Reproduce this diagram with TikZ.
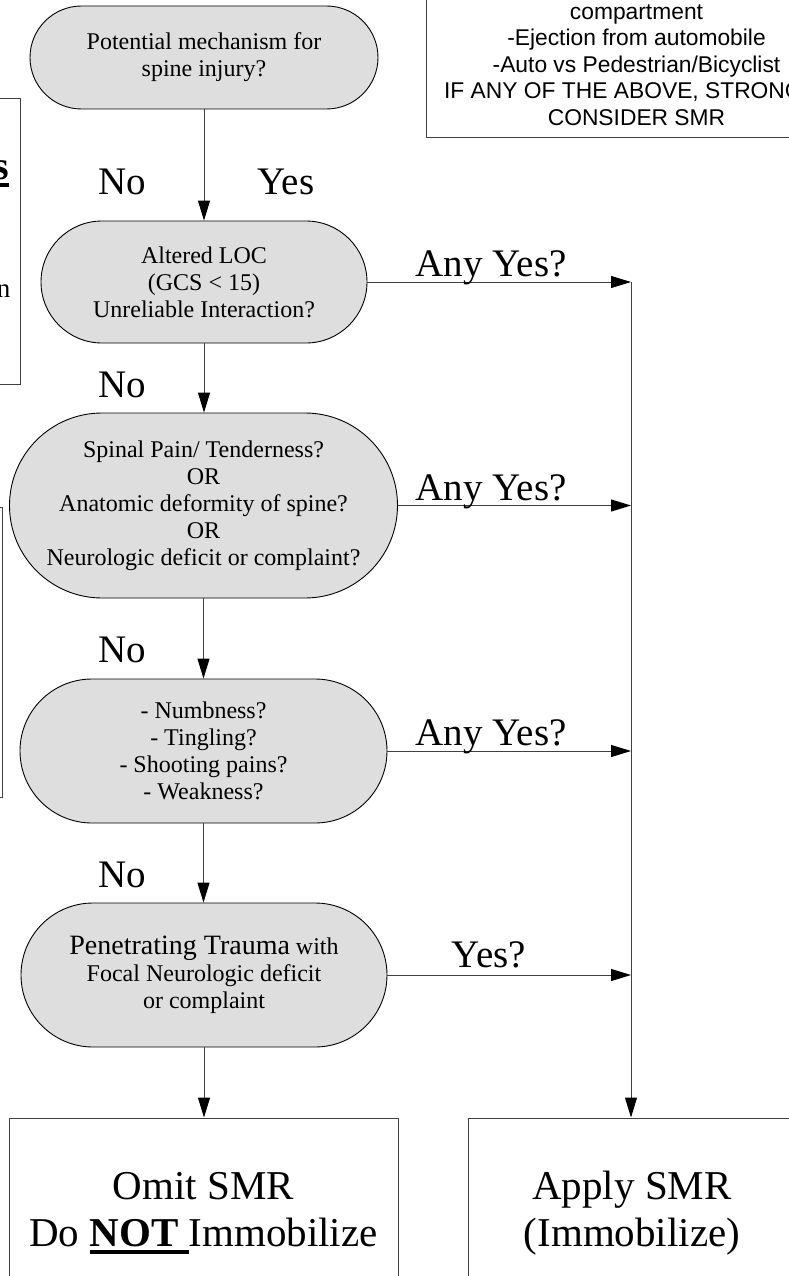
\documentclass[tikz,border=0pt]{standalone}
\usepackage{fontspec}
\setmainfont{Liberation Serif}
\newfontfamily\arialfont{Liberation Sans}
\usetikzlibrary{shapes.misc,arrows.meta}
\definecolor{nodefill}{RGB}{222,222,222}
\definecolor{linegray}{RGB}{64,64,64}
\newcommand\thickul[1]{\setbox0\hbox{#1}\rlap{\rule[-7pt]{\wd0}{3.5pt}}\box0}
\begin{document}
\begin{tikzpicture}[x=1pt,y=-1pt,
  decision/.style={rounded rectangle, rounded rectangle arc length=180, draw=black, line width=0.9pt,
    fill=nodefill, inner sep=0pt, align=center, font=\fontsize{24}{27}\selectfont},
  outbox/.style={rectangle, draw=linegray, line width=1pt, inner sep=0pt, align=center,
    font=\fontsize{41}{47}\selectfont},
  sidebox/.style={rectangle, draw=linegray, line width=1pt, inner sep=0pt},
  conn/.style={draw=linegray, line width=1pt},
  arr/.style={conn, -{Triangle[length=20pt,width=12pt,color=black]}},
  biglabel/.style={anchor=base, inner sep=0pt, font=\fontsize{39}{39}\selectfont},
]
\useasboundingbox (0,0) rectangle (788,1276);

% partial boxes at the edges
\node[sidebox, minimum width=420pt, minimum height=146pt, align=center,
      font=\arialfont\fontsize{22.8}{26.4}\selectfont] (mech) at (636.5,65)
  {compartment\\-Ejection from automobile\\-Auto vs Pedestrian/Bicyclist\\IF ANY OF THE ABOVE, STRONGLY\\CONSIDER SMR};
\node[sidebox, minimum width=300pt, minimum height=285pt] (side1) at (-130,241.5) {};
\node[anchor=base east, inner sep=0pt, font=\fontsize{40}{40}\selectfont] (side1a) at (9.5,180) {\thickul{\textbf{s}}};
\node[anchor=base east, inner sep=0pt, font=\fontsize{27}{27}\selectfont] (side1b) at (10.5,297) {n};
\node[sidebox, minimum width=300pt, minimum height=290pt] (side2) at (-148,652) {};

% decision nodes
\node[decision, minimum width=348pt, minimum height=103pt] (n1) at (204,57.5)
  {Potential mechanism for\\spine injury?};
\node[decision, minimum width=326pt, minimum height=122pt] (n2) at (204,282)
  {Altered LOC\\(GCS {\textless} 15)\\Unreliable Interaction?};
\node[decision, minimum width=388pt, minimum height=185pt] (n3) at (203.5,505.5)
  {Spinal Pain/ Tenderness?\\OR\\Anatomic deformity of spine?\\OR\\Neurologic deficit or complaint?};
\node[decision, minimum width=367pt, minimum height=144pt] (n4) at (203.5,751)
  {- Numbness?\\- Tingling?\\- Shooting pains?\\- Weakness?};
\node[decision, minimum width=366pt, minimum height=144pt] (n5) at (204,975)
  {{\fontsize{28}{30}\selectfont Penetrating Trauma} with\\Focal Neurologic deficit\\or complaint};

% outcome boxes
\node[outbox, minimum width=389pt, minimum height=190pt] (omit) at (203.5,1213)
  {Omit SMR\\Do \thickul{\textbf{NOT}\ }Immobilize};
\node[outbox, minimum width=328pt, minimum height=190pt] (apply) at (632,1213)
  {Apply SMR\\(Immobilize)};

% rail
\coordinate (rail) at (631,282);

% connectors
\draw[arr] (n1.south) -- (n1.south |- n2.north);
\draw[arr] (n2.south) -- (n2.south |- n3.north);
\draw[arr] (n3.south) -- (n3.south |- n4.north);
\draw[arr] (n4.south) -- (n4.south |- n5.north);
\draw[arr] (n5.south) -- (n5.south |- omit.north);
\draw[arr] (n2.east) -- (n2.east -| rail);
\draw[arr] (n3.east) -- (n3.east -| rail);
\draw[arr] (n4.east) -- (n4.east -| rail);
\draw[arr] (n5.east) -- (n5.east -| rail);
\draw[arr] (rail) -- (rail |- apply.north);

% labels
\node[biglabel] (lno1) at (122.5,195) {No};
\node[biglabel] (lyes1) at (286,195) {Yes};
\node[biglabel] (lno2) at (122.5,397) {No};
\node[biglabel] (lno3) at (122.5,662) {No};
\node[biglabel] (lno4) at (122.5,887) {No};
\node[biglabel] (lany1) at (491,276) {Any Yes?};
\node[biglabel] (lany2) at (491,500) {Any Yes?};
\node[biglabel] (lany3) at (491,745) {Any Yes?};
\node[biglabel] (lyes5) at (489,967) {Yes?};
\end{tikzpicture}
\end{document}
